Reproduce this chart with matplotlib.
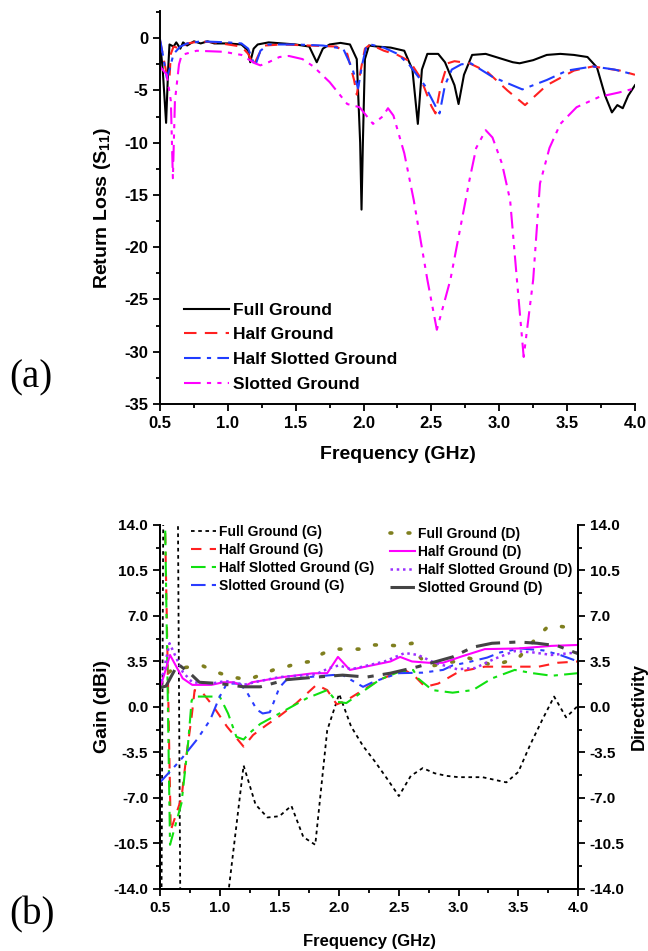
import numpy as np
import matplotlib
matplotlib.use('Agg')
import matplotlib.pyplot as plt
from matplotlib.ticker import MultipleLocator, FormatStrFormatter
#-------------------------------------------------------------------------------
# (a) return loss
f_full   = [0.50,0.52,0.545,0.56,0.57,0.60,0.62,0.65,0.67,0.70,0.75,0.80,0.85,0.90,1.00,1.10,1.15,1.165,1.19,1.22,1.30,1.40,1.50,1.60,1.655,1.70,1.75,1.83,1.90,1.95,1.975,1.985,1.995,2.01,2.04,2.10,2.20,2.30,2.36,2.40,2.43,2.47,2.55,2.60,2.67,2.70,2.74,2.80,2.90,3.00,3.10,3.15,3.25,3.35,3.45,3.55,3.65,3.72,3.78,3.83,3.87,3.91,3.95,4.00]
s_full   = [-0.3,-3.0,-8.1,-3.0,-0.6,-0.8,-0.4,-1.0,-0.4,-0.7,-0.3,-0.5,-0.3,-0.5,-0.5,-0.6,-1.2,-2.3,-1.0,-0.6,-0.4,-0.5,-0.6,-0.8,-2.3,-1.0,-0.6,-0.45,-0.6,-2.0,-10.0,-16.4,-10.0,-2.0,-0.7,-0.8,-0.9,-1.2,-3.0,-8.2,-3.0,-1.5,-1.5,-2.3,-4.5,-6.3,-3.5,-1.6,-1.5,-1.9,-2.3,-2.4,-2.1,-1.6,-1.5,-1.6,-1.8,-2.8,-5.5,-7.1,-6.4,-6.7,-5.5,-4.5]
f_half   = [0.50,0.52,0.55,0.57,0.58,0.60,0.65,0.70,0.80,0.90,1.00,1.10,1.15,1.19,1.23,1.27,1.40,1.60,1.80,1.88,1.93,1.95,1.98,2.01,2.05,2.15,2.25,2.34,2.42,2.50,2.53,2.57,2.62,2.67,2.78,2.91,3.06,3.19,3.35,3.55,3.69,3.89,4.00]
s_half   = [-0.2,-1.5,-3.5,-3.8,-1.5,-0.8,-1.0,-0.5,-0.3,-0.4,-0.6,-0.8,-1.5,-2.6,-1.5,-0.7,-0.6,-0.7,-0.8,-1.5,-4.0,-5.4,-3.0,-1.0,-0.6,-1.2,-1.6,-2.2,-3.8,-6.5,-7.2,-4.5,-2.4,-2.2,-2.4,-3.2,-5.0,-6.4,-4.5,-3.1,-2.7,-3.1,-3.5]
f_hslot  = [0.50,0.52,0.55,0.57,0.60,0.65,0.70,0.80,1.00,1.10,1.15,1.20,1.24,1.30,1.50,1.70,1.85,1.92,1.96,1.99,2.02,2.05,2.15,2.25,2.34,2.45,2.53,2.56,2.60,2.65,2.72,2.79,2.95,3.17,3.35,3.50,3.69,3.85,4.00]
s_hslot  = [-0.1,-1.5,-3.8,-3.0,-1.5,-0.8,-0.5,-0.3,-0.4,-0.5,-1.0,-2.7,-1.2,-0.6,-0.6,-0.7,-1.0,-3.0,-4.8,-2.5,-0.8,-0.6,-0.9,-1.5,-2.6,-4.5,-6.5,-7.2,-4.5,-3.0,-2.5,-2.4,-3.7,-4.9,-4.0,-3.1,-2.7,-3.0,-3.5]
f_slot   = [0.50,0.55,0.58,0.595,0.61,0.64,0.66,0.77,0.97,1.10,1.20,1.24,1.30,1.38,1.45,1.55,1.63,1.75,1.88,1.97,2.07,2.14,2.18,2.22,2.30,2.37,2.47,2.54,2.64,2.78,2.83,2.90,2.95,3.02,3.08,3.13,3.18,3.25,3.30,3.37,3.45,3.57,3.74,3.88,4.00]
s_slot   = [-2.7,-3.5,-6.0,-13.4,-6.0,-2.5,-1.6,-1.2,-1.3,-1.6,-2.4,-2.6,-2.3,-1.8,-1.7,-2.0,-2.7,-4.2,-6.3,-6.6,-8.2,-7.5,-6.7,-7.4,-11.0,-15.5,-23.1,-27.9,-23.1,-13.6,-10.5,-8.8,-9.5,-12.0,-15.5,-23.1,-30.5,-23.1,-13.9,-10.5,-8.2,-6.6,-5.6,-5.2,-4.8]
#-------------------------------------------------------------------------------
# (b) gain / directivity
g_full_f = [0.50,0.58,0.70,1.05,1.20,1.30,1.40,1.50,1.60,1.70,1.80,1.90,2.00,2.10,2.20,2.30,2.40,2.50,2.60,2.70,2.80,2.90,3.00,3.10,3.20,3.30,3.40,3.50,3.60,3.70,3.80,3.90,4.00]
g_full   = [-40,120,-60,-16,-4.5,-7.5,-8.5,-8.4,-7.6,-10.0,-10.6,-1.8,1.0,-1.5,-3.0,-4.2,-5.5,-6.85,-5.3,-4.7,-5.1,-5.3,-5.4,-5.4,-5.4,-5.6,-5.8,-5.0,-2.9,-1.0,0.8,-0.8,0.1]
g_half_f = [0.50,0.59,0.68,0.72,0.765,0.79,0.86,0.95,1.06,1.20,1.28,1.39,1.50,1.64,1.81,1.90,1.98,2.06,2.20,2.34,2.50,2.55,2.64,2.72,2.83,3.00,3.22,3.45,3.67,3.83,4.00]
g_half   = [35,-9.5,-7.0,-3.8,-0.75,1.3,1.05,0.0,-1.5,-3.05,-2.15,-1.4,-0.7,0.28,1.7,1.3,0.2,0.5,1.3,2.1,2.7,2.85,2.3,1.55,1.8,2.7,3.1,3.1,3.1,3.4,3.5]
g_hsl_f  = [0.50,0.584,0.68,0.735,0.765,0.79,0.89,1.00,1.07,1.14,1.20,1.25,1.34,1.50,1.73,1.90,1.98,2.06,2.20,2.34,2.50,2.62,2.66,2.78,2.95,3.12,3.28,3.47,3.62,3.78,4.00]
g_hsl    = [40,-10.6,-7.4,-2.8,0.5,0.8,0.8,0.8,-0.5,-2.3,-2.5,-2.0,-1.3,-0.5,0.67,1.3,0.4,0.3,1.2,2.1,2.7,2.85,2.2,1.3,1.1,1.3,2.2,2.85,2.6,2.4,2.6]
g_slot_f = [0.50,0.67,0.81,0.92,1.00,1.06,1.17,1.23,1.31,1.36,1.42,1.50,1.56,1.78,1.95,2.03,2.20,2.28,2.34,2.50,2.70,2.87,2.95,3.06,3.24,3.35,3.52,3.71,3.85,4.00]
g_slot   = [-5.8,-4.1,-2.5,-1.0,0.8,1.8,1.8,1.1,-0.2,-0.5,-0.4,1.5,2.1,2.33,2.46,2.45,1.55,1.9,2.1,2.6,2.64,2.85,3.2,3.4,3.8,4.2,4.5,4.35,4.0,3.5]
d_full_f = [0.50,0.55,0.62,0.68,0.85,0.93,1.00,1.10,1.24,1.34,1.45,1.56,1.67,1.77,1.86,1.95,2.06,2.17,2.28,2.37,2.51,2.61,2.66,2.75,2.85,2.97,3.07,3.18,3.29,3.50,3.66,3.75,3.85,3.93,4.00]
d_full   = [1.5,2.5,3.0,3.0,3.2,2.85,2.6,2.3,2.1,2.46,2.85,3.1,3.4,3.5,4.1,4.45,4.45,4.45,4.77,4.77,4.7,4.9,4.0,3.1,3.3,3.5,3.8,3.5,3.2,3.75,5.4,6.2,6.2,6.1,5.9]
d_half_f = [0.50,0.584,0.69,0.77,0.93,1.03,1.12,1.20,1.27,1.53,1.78,1.90,1.99,2.09,2.43,2.51,2.61,2.75,2.87,3.03,3.22,3.50,3.78,4.00]
d_half   = [1.4,4.0,2.2,1.7,1.7,1.9,1.9,1.55,1.9,2.3,2.59,2.6,3.85,2.85,3.5,3.85,3.5,3.4,3.4,3.9,4.45,4.5,4.7,4.77]
d_hsl_f  = [0.50,0.58,0.69,0.77,0.93,1.05,1.20,1.34,1.50,1.80,1.92,2.00,2.10,2.38,2.55,2.66,2.80,2.99,3.14,3.30,3.47,3.62,3.78,4.00]
d_hsl    = [1.5,4.9,2.7,1.9,1.8,2.0,1.7,2.0,2.3,2.5,3.0,3.2,2.9,3.5,4.15,4.0,3.4,2.9,3.0,3.7,4.3,4.2,4.0,4.2]
d_slot_f = [0.50,0.55,0.65,0.75,0.83,1.00,1.20,1.34,1.56,1.81,2.03,2.23,2.43,2.66,2.95,3.12,3.28,3.50,3.66,3.83,4.00]
d_slot   = [1.5,1.6,3.3,2.6,1.9,1.8,1.55,1.55,2.1,2.3,2.45,2.3,2.6,3.1,3.85,4.6,4.9,5.0,4.9,4.7,4.1]
#-------------------------------------------------------------------------------
plt.rcParams['font.family'] = ['Liberation Sans', 'DejaVu Sans']
plt.rcParams['font.weight'] = 'bold'
plt.rcParams['axes.unicode_minus'] = False
plt.rcParams['mathtext.fontset'] = 'custom'
plt.rcParams['mathtext.rm'] = 'Liberation Sans'
plt.rcParams['mathtext.bf'] = 'Liberation Sans:bold'

fig = plt.figure(figsize=(6.48, 9.51), dpi=100)

def style_axis(ax, xmaj, xmin, ymaj, ymin, fs):
    ax.xaxis.set_major_locator(MultipleLocator(xmaj))
    ax.xaxis.set_minor_locator(MultipleLocator(xmin))
    ax.yaxis.set_major_locator(MultipleLocator(ymaj))
    ax.yaxis.set_minor_locator(MultipleLocator(ymin))
    ax.tick_params(which='major', direction='out', length=5, width=1.3, labelsize=fs)
    ax.tick_params(which='minor', direction='out', length=3, width=1.3)
    for sp in ax.spines.values():
        sp.set_linewidth(1.4)
    for lab in ax.get_xticklabels() + ax.get_yticklabels():
        lab.set_fontweight('bold')

#------------------------------- (a) -------------------------------------------
ax1 = fig.add_axes([0.2469, 0.5752, 0.7330, 0.4132])
ax1.plot(f_full,  s_full,  color='black', lw=1.5, label='Full Ground')
ax1.plot(f_half,  s_half,  color='#ff2020', lw=1.5, dashes=(6, 4), label='Half Ground')
ax1.plot(f_hslot, s_hslot, color='#1f3cff', lw=1.5, dashes=(8, 3, 2, 3), label='Half Slotted Ground')
ax1.plot(f_slot,  s_slot,  color='#ff00ff', lw=1.5, dashes=(8, 3, 2, 3, 2, 3), label='Slotted Ground')
ax1.set_xlim(0.5, 4.0)
ax1.set_ylim(-35, 2.6)
ax1.spines['top'].set_visible(False)
ax1.spines['right'].set_visible(False)
style_axis(ax1, 0.5, 0.25, 5, 2.5, 12)
ax1.xaxis.set_major_formatter(FormatStrFormatter('%.1f'))
ax1.set_xlabel('Frequency (GHz)', fontsize=14, fontweight='bold', labelpad=11)
ax1.set_ylabel(r'Return Loss (S$_{\mathbf{11}}$)', fontsize=14, fontweight='bold', labelpad=8)
ax1.legend(loc='lower left', bbox_to_anchor=(0.025, 0.0), frameon=False, fontsize=12.5,
           handlelength=2.6, handletextpad=0.2, labelspacing=0.55, borderaxespad=0.3)
fig.text(0.015, 0.603, '(a)', fontsize=28, family='Liberation Serif', fontweight='normal', va='center')

#------------------------------- (b) -------------------------------------------
ax2 = fig.add_axes([0.2469, 0.0652, 0.6451, 0.3828])
ax2.plot(g_full_f, g_full, color='black', lw=1.3, dashes=(2, 2), label='Full Ground (G)')
ax2.plot(g_half_f, g_half, color='#ff2020', lw=1.5, dashes=(5, 4), label='Half Ground (G)')
ax2.plot(g_hsl_f,  g_hsl,  color='#10e010', lw=1.5, dashes=(7, 3, 2, 3), label='Half Slotted Ground (G)')
ax2.plot(g_slot_f, g_slot, color='#2a3cff', lw=1.5, dashes=(7, 3, 2, 3, 2, 3), label='Slotted Ground (G)')
ax2.plot(d_full_f, d_full, color='#7f7f1f', lw=2.6, dashes=(0.5, 4.5), dash_capstyle='round', label='Full Ground (D)')
ax2.plot(d_half_f, d_half, color='#ff00ff', lw=1.5, label='Half Ground (D)')
ax2.plot(d_hsl_f,  d_hsl,  color='#9b30ff', lw=1.8, dashes=(1, 1.5), label='Half Slotted Ground (D)')
ax2.plot(d_slot_f, d_slot, color='#444444', lw=2.2, dashes=(8, 3, 2, 3), label='Slotted Ground (D)')
ax2.set_xlim(0.5, 4.0)
ax2.set_ylim(-14, 14)
ax2.spines['top'].set_visible(False)
style_axis(ax2, 0.5, 0.25, 3.5, 1.75, 11)
ax2.xaxis.set_major_formatter(FormatStrFormatter('%.1f'))
ax2.yaxis.set_major_formatter(FormatStrFormatter('%.1f'))
ax2.set_xlabel('Frequency (GHz)', fontsize=12, fontweight='bold', labelpad=14)
ax2.set_ylabel('Gain (dBi)', fontsize=14, fontweight='bold', labelpad=2)

ax3 = ax2.twinx()
ax3.set_ylim(-14, 14)
ax3.spines['top'].set_visible(False)
style_axis(ax3, 0.5, 0.25, 3.5, 1.75, 11)
ax3.yaxis.set_major_formatter(FormatStrFormatter('%.1f'))
ax3.set_ylabel('Directivity', fontsize=13, fontweight='bold', labelpad=4)

h, lb = ax2.get_legend_handles_labels()
leg1 = ax2.legend(h[:4], lb[:4], loc='upper left', bbox_to_anchor=(0.045, 1.035), frameon=False,
                  fontsize=10, handlelength=1.8, handletextpad=0.2, labelspacing=0.3)
ax2.add_artist(leg1)
ax2.legend(h[4:], lb[4:], loc='upper left', bbox_to_anchor=(0.52, 1.03), frameon=False,
           fontsize=10, handlelength=1.8, handletextpad=0.2, labelspacing=0.3)
fig.text(0.015, 0.038, '(b)', fontsize=28, family='Liberation Serif', fontweight='normal', va='center')

fig.savefig('out.png', dpi=100)
